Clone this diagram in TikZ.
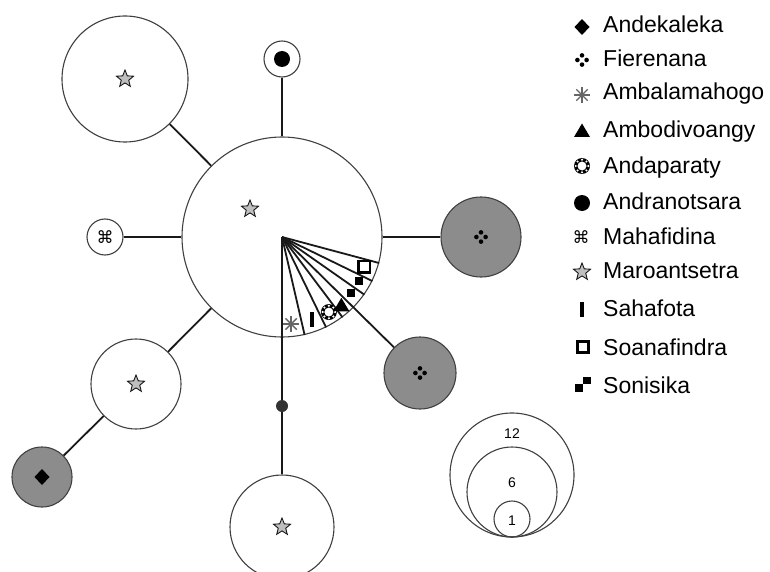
\documentclass[tikz,border=0pt]{standalone}
\usepackage{fontspec}
\setmainfont{Liberation Sans}
\newfontfamily\symfont{DejaVu Sans}
\usetikzlibrary{shapes.geometric,calc}

\definecolor{hapgray}{gray}{0.55}

\tikzset{
  hap/.style={circle, draw=black!75, line width=1.1pt, fill=white, inner sep=0pt},
  hapg/.style={hap, fill=hapgray},
  link/.style={line width=1.8pt, black!90},
  starsym/.style={star, star points=5, star point ratio=2.3, draw=black!90, fill=gray!50,
    line width=0.9pt, inner sep=0pt, minimum size=18pt},
  lab/.style={anchor=base west, inner sep=0pt, font=\fontsize{23}{27}\selectfont},
  num/.style={inner sep=0pt, font=\fontsize{14}{16}\selectfont},
  pics/diasym/.style={code={\fill (0,-8) -- (7.5,0) -- (0,8) -- (-7.5,0) -- cycle;}},
  pics/fiesym/.style={code={\foreach \a in {0,90,180,270} \fill (\a:4.6) circle (2.3);}},
  pics/astsym/.style={code={\foreach \a in {0,45,90,135}
      \draw[black!60, line width=1.3pt] (\a:8) -- (\a+180:8);}},
  pics/trisym/.style={code={\fill (-8,6) -- (8,6) -- (0,-7.5) -- cycle;}},
  pics/andsym/.style={code={\fill[even odd rule] (0,0) circle (8) (0,0) circle (4.6);
      \foreach \a in {0,45,...,315} \fill[white] (\a:6.3) circle (1.2);}},
  pics/dotsym/.style={code={\fill (0,0) circle (8);}},
  pics/barsym/.style={code={\fill (-2.4,-7.5) rectangle (2.4,7.5);}},
  pics/sqsym/.style={code={\draw[line width=2.3pt] (-5.6,-5.6) rectangle (5.6,5.6);}},
  pics/sonsym/.style={code={\fill (-8,0) rectangle (0,8); \fill (0,-7.5) rectangle (7.5,0);}},
}

\begin{document}
\begin{tikzpicture}[x=1pt, y=-1pt]

  \path[fill=white, use as bounding box] (0,0) rectangle (770,572);

  % haplotypes
  \node[hap, minimum size=200pt] (cen) at (282,237) {};
  \node[hap, minimum size=126pt] (mar1) at (125,79) {};
  \node[hap, minimum size=36pt] (andr) at (282,59) {};
  \node[hap, minimum size=36pt] (maha) at (105,237) {};
  \node[hapg, minimum size=80pt] (fie1) at (481,237) {};
  \node[hapg, minimum size=72pt] (fie2) at (420,373) {};
  \node[hap, minimum size=90pt] (mar2) at (136,384) {};
  \node[hapg, minimum size=60pt] (ande) at (42,477) {};
  \node[circle, fill=black!80, inner sep=0pt, minimum size=12pt] (med) at (282,406) {};
  \node[hap, minimum size=104pt] (mar3) at (282,527) {};

  % branches
  \draw[link] (mar1) -- (cen);
  \draw[link] (andr) -- (cen);
  \draw[link] (maha) -- (cen);
  \draw[link] (cen) -- (fie1);
  \draw[link] (cen) -- (mar2) -- (ande);
  \draw[link] (cen.center) -- (fie2);
  \draw[link] (cen.center) -- (med) -- (mar3);
  \foreach \a in {-15,-26,-35,-53,-64,-77}
    \draw[link] (cen.center) -- (cen.\a);

  % symbols in the circles
  \node[starsym] (censtar) at (250,209) {};
  \node[starsym] (mar1star) at (mar1) {};
  \node[starsym] (mar2star) at (mar2) {};
  \node[starsym] (mar3star) at (mar3) {};
  \pic at (andr) {dotsym};
  \node[inner sep=0pt, font=\symfont\fontsize{17}{17}\selectfont] (mahasym) at (maha) {⌘};
  \pic at (fie1) {fiesym};
  \pic at (fie2) {fiesym};
  \pic at (ande) {diasym};

  \pic at ($(cen.center)!0.87!(cen.-20)$) {sqsym};
  \fill ($(cen.center)!0.88!(cen.-30)$) ++(-4,-4) rectangle ++(8,8);
  \fill ($(cen.center)!0.88!(cen.-39)$) ++(-4,-4) rectangle ++(8,8);
  \pic at ($(cen.center)!0.9!(cen.-49)$) {trisym};
  \pic at ($(cen.center)!0.88!(cen.-58.5)$) {andsym};
  \pic at ($(cen.center)!0.87!(cen.-70)$) {barsym};
  \pic at ($(cen.center)!0.87!(cen.-84)$) {astsym};

  % legend
  \pic at (582,27) {diasym};
  \node[lab] (l1) at (603,33) {Andekaleka};
  \pic at (582,60) {fiesym};
  \node[lab] (l2) at (603,66.7) {Fierenana};
  \pic at (582,95) {astsym};
  \node[lab] (l3) at (603,100) {Ambalamahogo};
  \pic at (582,131) {trisym};
  \node[lab] (l4) at (603,137.7) {Ambodivoangy};
  \pic at (582,166) {andsym};
  \node[lab] (l5) at (603,173.3) {Andaparaty};
  \pic at (582,203) {dotsym};
  \node[lab] (l6) at (603,209.3) {Andranotsara};
  \node[inner sep=0pt, font=\symfont\fontsize{17}{17}\selectfont] (lsym7) at (581,237) {⌘};
  \node[lab] (l7) at (603,244) {Mahafidina};
  \node[starsym] (lsym8) at (582,272) {};
  \node[lab] (l8) at (603,278.3) {Maroantsetra};
  \pic at (582,309) {barsym};
  \node[lab] (l9) at (603,316.7) {Sahafota};
  \pic at (583,347) {sqsym};
  \node[lab] (l10) at (603,355.7) {Soanafindra};
  \pic at (583,384) {sonsym};
  \node[lab] (l11) at (603,393.3) {Sonisika};

  % circle sizes
  \node[hap, fill=none, minimum size=124pt] (s12) at (512,475) {};
  \node[hap, fill=none, minimum size=90pt] (s6) at (512,492) {};
  \node[hap, fill=none, minimum size=36pt] (s1) at (512,519) {};
  \node[num] (n12) at (512,434) {12};
  \node[num] (n6) at (512,483) {6};
  \node[num] (n1) at (512,521) {1};

\end{tikzpicture}
\end{document}
